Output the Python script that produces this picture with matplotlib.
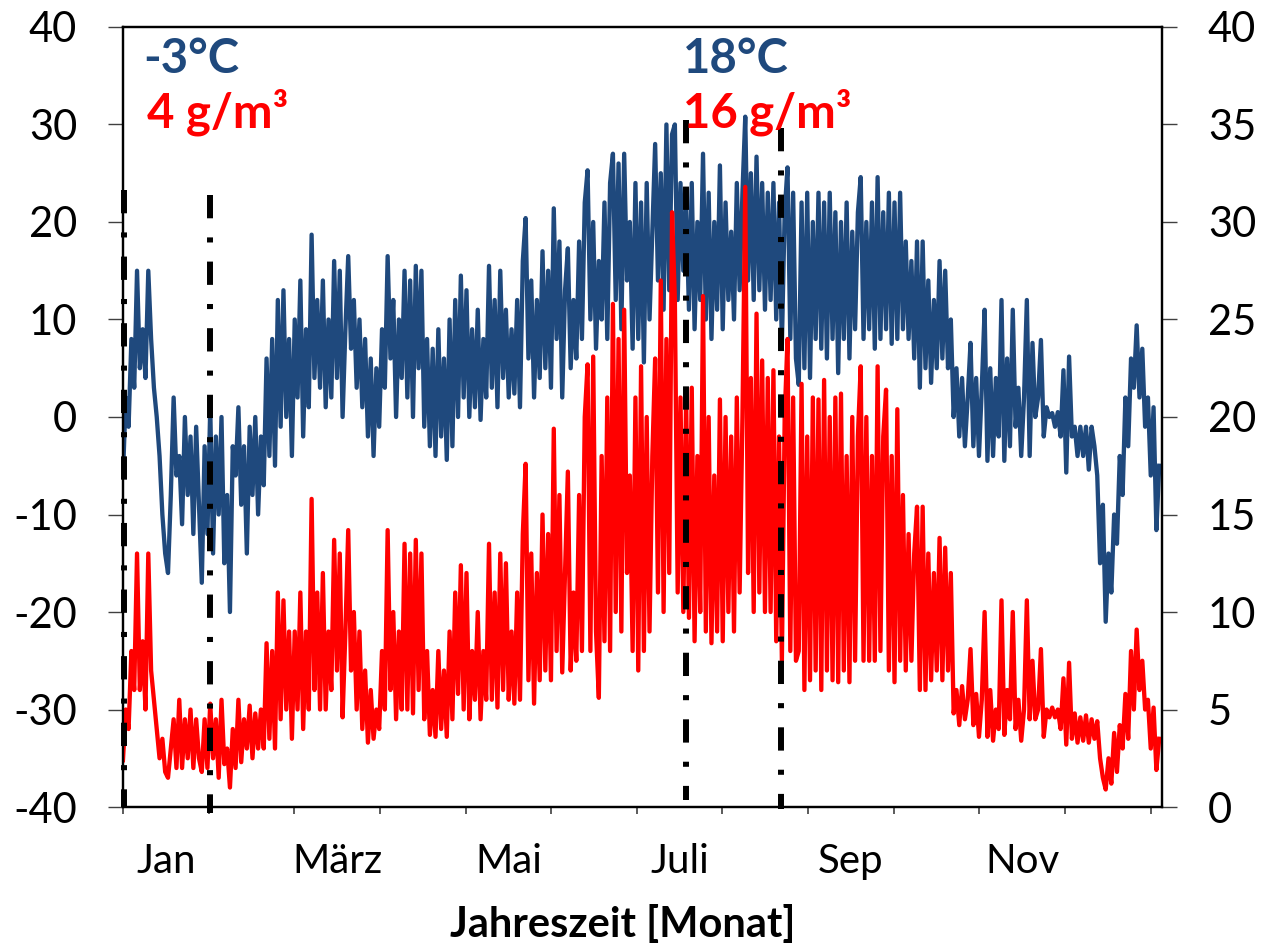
import numpy as np
import matplotlib
matplotlib.use('Agg')
import matplotlib.pyplot as plt

plt.rcParams['font.family'] = ['Lato', 'DejaVu Sans']
plt.rcParams['axes.unicode_minus'] = False

# Tageswerte (abwechselnd Spitze / Tal)
temperature = [
    -6, 2, -1, 8, 3, 15, 5, 9, 4, 15,
    8, 3, 0, -4, -10, -14, -16, -8, 2, -6,
    -4, -11, 0, -8, -2, -12, -1, -9, -17, -3,
    -12, 1, -14, -2, -10, 0, -15, -8, -20, -3,
    -6, 1, -9, -3, -14, -1, -8, 0, -10, -2,
    -7, 6, -4, 8, -5, 12, -1, 13, 0, 8,
    -4, 10, 2, 14, -2, 9, 1, 18.7, 4, 12,
    3, 14, 1, 10, 2, 16, 4, 15, 0, 9,
    16.5, 7, 12, 3, 10, 1, 8, -2, 6, -4,
    5, -1, 9, 3, 16.5, 6, 12, 0, 10, 4,
    15, 2, 14, 0, 15.5, 5, 15, -1, 8, -3,
    7, -4, 9, -2, 6, -4.4, 10, -3, 12, 0,
    14.5, 2, 13, 0, 9, 1, 11, -0.3, 8, 2,
    15.5, 3, 12, 1, 15, 4, 11, 2, 9, 2.4,
    12, 1, 16, 20.4, 6, 14, 2, 12, 4, 17,
    5, 15, 3, 21.4, 8, 18, 2, 13, 17.3, 5,
    12, 6, 18, 8, 22, 25.3, 10, 20, 7, 16,
    10, 22, 8, 24, 27, 12, 26, 9, 27, 14,
    20, 7, 24, 8, 22, 5.6, 24, 10, 19, 28,
    14, 25, 11, 30, 13, 29, 30, 12, 24, 15,
    22, 11, 24, 9, 20, 12, 27, 10, 23, 8,
    20, 11, 25.8, 9, 22, 12, 19, 10, 24, 13,
    23, 30.8, 14, 25, 12, 26.7, 13, 24, 11, 23,
    12, 24, 10, 22, 7.4, 21, 25.6, 8, 23, 6,
    3.3, 22, 5, 23, 4, 20, 8, 23, 7, 22,
    6, 23, 8, 21, 4.5, 20, 8, 22, 6, 19,
    9, 21, 24.6, 8, 20, 9, 22, 7, 24.6, 8,
    21, 9, 23, 7.5, 22, 8, 23, 9, 18, 8,
    16, 6, 18, 3, 18, 5, 14, 3.5, 12, 5,
    16, 6, 15, 5, 10, 0, 5, -2, 4, -3,
    2, 7.6, -3, 4, -4, 3, 11, -4.5, 5, -4,
    4, -2, 12, -4.5, 6, -3, 11, -1, 3, -4,
    2, 12, -4, 7.6, 0, 2, 7.9, -2, 1, 0,
    0.4, -1, 0.5, -2, 4.8, -5.7, 6.2, -2, -1, -4,
    -1, -4, -1, -5.4, -1, -3, -6, -15, -9, -21,
    -14, -18, -10, -13, -4, -8, 2, -3, 6, 3,
    9.4, 2, 7, -1, 2, -6, 1, -11.6, -5,
]

humidity = [
    2.4, 5, 4, 8, 6, 13, 6, 8.5, 5, 13,
    7, 5.5, 4, 2.5, 3.5, 1.8, 1.5, 3, 4.5, 2,
    5.5, 2, 4.5, 2.5, 5, 2, 4.5, 2.5, 1.8, 4.5,
    2, 5.3, 2.5, 4.5, 1.5, 5.5, 2.2, 3, 1.0, 4,
    2, 5.5, 2.3, 4.5, 3, 5.2, 2.5, 4.8, 3, 5,
    3, 8.4, 3.5, 8, 3, 11, 4.5, 10.6, 5, 9,
    3.5, 9, 5, 11, 4, 9, 5, 15.8, 6, 11,
    5, 12, 5, 9, 6, 13.7, 7, 13, 4.6, 9,
    14.2, 7, 10, 5, 9, 4, 7, 3.3, 6, 3.5,
    5, 4, 8, 5, 14.2, 6, 10, 4.5, 9, 5,
    13.5, 5, 13, 4.8, 13.7, 6, 13, 4.5, 8, 3.7,
    6, 3.6, 8, 4, 7, 3.6, 9, 4.5, 11, 5.8,
    12.4, 5, 12, 4.5, 8, 5.5, 10, 4.5, 8, 5.5,
    13.5, 5.5, 11, 5.1, 13, 6, 12.5, 5.5, 9, 5.3,
    11, 5.5, 14, 17.6, 6.5, 13, 5.3, 12, 6.5, 15,
    7, 14, 6.5, 19.4, 8, 16, 6.9, 12, 17.2, 7,
    11, 7.5, 16, 8, 20, 22.7, 8, 23.1, 9, 5.6,
    18, 8.5, 21, 8, 25.8, 10, 24, 9, 25.5, 12,
    17, 8, 21, 7, 22.6, 8, 20, 9, 18, 23,
    11, 27, 10, 24, 12, 30.5, 26, 11, 21, 10,
    21, 9.7, 21.5, 8.5, 18, 10, 26.2, 9, 20, 8.4,
    17, 9, 20.9, 8.5, 20, 10, 19, 9, 21, 11,
    20, 31.8, 12, 22, 10, 25.3, 11, 22.9, 10, 22,
    10, 22.4, 8.5, 19, 7.5, 20, 24, 8, 21, 7.5,
    8, 21.7, 6, 19, 6.5, 21, 7, 20.9, 6, 21.9,
    7, 20, 6.5, 21, 6.4, 21.2, 7, 18, 6.4, 20,
    7.5, 19, 22.6, 7.5, 20, 7.5, 18, 7.5, 22.6, 8,
    19, 21.4, 7, 18, 6.4, 20.4, 7.5, 16, 7, 14,
    7.5, 13, 15.4, 6, 15.4, 6, 13, 6.5, 12, 7,
    13.8, 6.5, 13.3, 7, 12, 4.8, 6, 4.2, 6.2, 4.5,
    5.5, 8.1, 4.2, 5.8, 3.6, 5.5, 10, 3.6, 6, 3.4,
    5, 4, 10.6, 3.7, 6, 4.5, 10, 4, 5.5, 3.4,
    5, 10.6, 4.5, 7.5, 4.5, 5, 8.1, 3.6, 5, 4.6,
    5.1, 4.6, 5, 4, 6.6, 3.2, 7.4, 3.5, 4.8, 3.3,
    4.6, 3.4, 4.7, 3.3, 4.5, 3.5, 4.4, 2.5, 1.5, 0.9,
    2.5, 1.2, 3.8, 1.8, 4.2, 3, 5.8, 3.5, 8, 5,
    9.1, 6, 7.5, 5, 5.5, 3, 5.1, 1.9, 3.5,
]

month_labels = ['Jan', 'März', 'Mai', 'Juli', 'Sep', 'Nov']

# senkrechte Markierungen (Tag, oberes / unteres Ende in °C)
marker_days = [0.3, 30.9, 199.8, 233.6]
marker_tops = [23.3, 22.8, 30.5, 29.6]
marker_bottoms = [-40, -40.6, -39.3, -40.2]

blue = '#1F497D'
red = '#FF0000'

days = np.arange(len(temperature))

fig = plt.figure(figsize=(12.61, 9.46), dpi=100)
ax = fig.add_axes([0.0975, 0.1469, 0.824, 0.8246])
ax2 = ax.twinx()

ax.plot(days, temperature, color=blue, lw=3.1)
ax2.plot(days, humidity, color=red, lw=3.1)

for d, top, bot in zip(marker_days, marker_tops, marker_bottoms):
    ax2.plot([d, d], [top, bot], transform=ax.transData, color='black', lw=4.3,
             linestyle=(0, (3.9, 3.2, 0.85, 3.2)), dash_capstyle='butt',
             clip_on=False)

ax.set_xlim(0, 369)
ax.set_ylim(-40, 40)
ax2.set_ylim(0, 40)
ax.set_yticks(np.arange(-40, 41, 10))
ax2.set_yticks(np.arange(0, 41, 5))

month_len = 365 / 12
ax.set_xticks(np.arange(13) * month_len)
ax.set_xticks((np.arange(len(month_labels)) * 2 + 0.5) * month_len, minor=True)
ax.set_xticklabels(month_labels, minor=True)

for a in (ax, ax2):
    a.tick_params(axis='y', direction='out', length=11, width=1, labelsize=30,
                  pad=22, color='#404040')
    for s in a.spines.values():
        s.set_linewidth(1.6)
ax.tick_params(axis='x', which='major', direction='out', length=5, width=1.2,
               labelbottom=False, color='#404040')
ax.tick_params(axis='x', which='minor', length=0, labelsize=29, pad=26)

fig.text(623 / 1261, 1 - 937 / 946, 'Jahreszeit [Monat]', ha='center',
         va='baseline', fontsize=30, fontweight='bold')

fig.text(143 / 1261, 1 - 73 / 946, '-3°C', color=blue, fontsize=34,
         fontweight='bold', va='baseline')
fig.text(147 / 1261, 1 - 128 / 946, '4 g/m³', color=red, fontsize=34,
         fontweight='bold', va='baseline')
fig.text(683 / 1261, 1 - 73 / 946, '18°C', color=blue, fontsize=34,
         fontweight='bold', va='baseline')
fig.text(683 / 1261, 1 - 128 / 946, '16 g/m³', color=red, fontsize=34,
         fontweight='bold', va='baseline')

fig.savefig('out.png', dpi=100)
